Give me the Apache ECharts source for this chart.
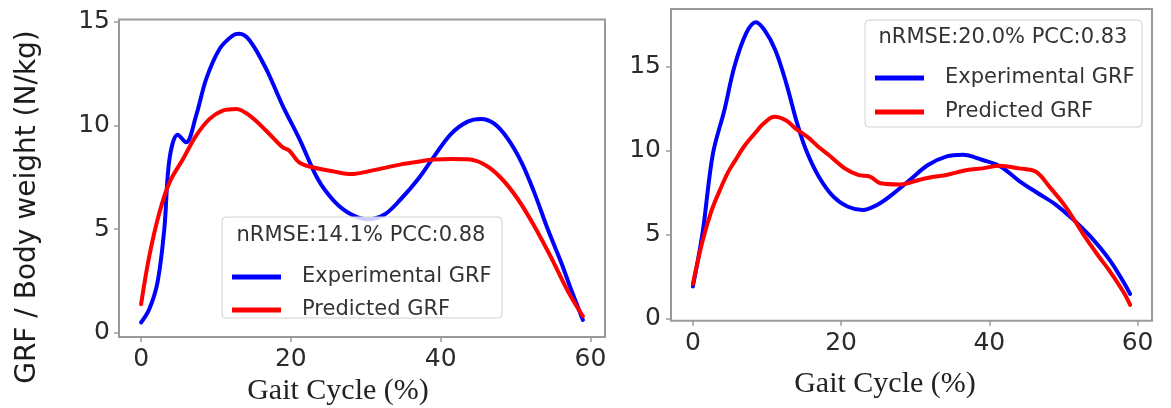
<!DOCTYPE html>
<html>
<head>
<meta charset="utf-8">
<script src="https://cdn.jsdelivr.net/npm/echarts@6/dist/echarts.min.js"></script>
<style>
  html, body { margin: 0; padding: 0; background: #ffffff; }
  #chart { width: 1171px; height: 408px; }
</style>
</head>
<body>
<div id="chart"></div>
<script>
// Gait cycle (%) sample positions and GRF / body weight (N/kg) values
const leftExpX  = [0, 1.1, 2.2, 3.1, 3.8, 4.9, 6.0, 7.35, 8.7, 10.5, 12.25, 13.1, 14.5, 16.7, 18.9, 21.2, 23.6, 25.8, 28.1, 30.3, 32.5, 34.7, 37, 39.2, 41.4, 43.6, 45.4, 47.2, 49, 50.8, 52.5, 54.3, 56.1, 57.4, 59];
const leftExpY  = [0.5, 1.15, 2.45, 5.0, 8.4, 9.55, 9.18, 10.47, 12.24, 13.69, 14.33, 14.41, 14.09, 12.72, 10.95, 9.3, 7.41, 6.34, 5.7, 5.47, 5.7, 6.45, 7.41, 8.54, 9.59, 10.18, 10.31, 10.07, 9.34, 8.22, 6.77, 5.0, 3.39, 2.11, 0.62];
const leftPredX = [0, 1.1, 2.45, 3.8, 5.6, 7.35, 9.15, 10.9, 12.7, 14.5, 16.7, 18.9, 19.8, 21.1, 22.9, 25.8, 28.1, 30.3, 32.5, 34.7, 37, 39.2, 41.4, 43.6, 45.9, 48.1, 50.3, 52.5, 54.8, 57, 59];
const leftPredY = [1.38, 3.71, 5.8, 7.25, 8.38, 9.5, 10.31, 10.71, 10.79, 10.47, 9.74, 8.94, 8.78, 8.22, 7.98, 7.77, 7.65, 7.78, 7.95, 8.12, 8.25, 8.35, 8.38, 8.36, 8.1, 7.45, 6.45, 5.15, 3.6, 2.0, 0.8];

const rightExpX  = [0, 1.3, 2.7, 4.26, 5.6, 7.2, 8.5, 9.65, 11.12, 12.6, 14.07, 15.3, 17.0, 18.96, 20.93, 22.9, 24.85, 26.8, 29.27, 31.72, 34.17, 36.4, 39.07, 41.5, 44, 46.4, 48.9, 51.3, 53.6, 56.2, 58.2, 59];
const rightExpY  = [1.9, 5.07, 9.8, 12.42, 15.0, 17.0, 17.65, 17.19, 16.0, 14.01, 11.63, 10.0, 8.44, 7.25, 6.65, 6.46, 6.76, 7.35, 8.25, 9.14, 9.64, 9.75, 9.44, 9.05, 8.2, 7.5, 6.8, 5.9, 4.9, 3.5, 2.09, 1.45];
const rightPredX = [0, 1.3, 2.5, 3.6, 4.74, 5.7, 7.0, 8.7, 9.5, 11.0, 12.6, 13.75, 15.5, 17.0, 18.3, 20.5, 22.3, 23.9, 25.3, 28, 30.5, 32.5, 34.2, 37, 39.1, 41.4, 44, 46.3, 48.1, 50.3, 52.6, 54.8, 56.2, 58.2, 59];
const rightPredY = [2.05, 4.6, 6.4, 7.6, 8.7, 9.4, 10.3, 11.2, 11.6, 12.02, 11.8, 11.35, 10.8, 10.2, 9.75, 8.94, 8.55, 8.45, 8.05, 7.98, 8.25, 8.44, 8.55, 8.84, 8.94, 9.1, 8.94, 8.74, 7.85, 6.65, 5.07, 3.67, 2.85, 1.5, 0.8];

const xTicks = [0, 20, 40, 60];
const yTicks = [0, 5, 10, 15];

const seriesNames = ['Experimental GRF', 'Predicted GRF'];
const leftStats = 'nRMSE:14.1% PCC:0.88';
const rightStats = 'nRMSE:20.0% PCC:0.83';
const xTitle = 'Gait Cycle (%)';
const yTitle = 'GRF / Body weight (N/kg)';

const BLUE = '#0000ff';
const RED = '#ff0000';
const SPINE = '#9a9a9a';
const TICK_TEXT = '#2b2b2b';
const SANS = 'DejaVu Sans';
const SERIF = 'Liberation Serif';

const zip = (xs, ys) => xs.map((x, i) => [x, ys[i]]);

function xAxisFor(gridIndex) {
  return {
    type: 'value', gridIndex, min: -2.95, max: 61.95,
    axisLine: { show: false, onZero: false },
    axisTick: { show: true, customValues: xTicks, length: 5, lineStyle: { color: SPINE, width: 1.5 } },
    axisLabel: { customValues: xTicks, margin: 10, fontFamily: SANS, fontSize: 25, color: TICK_TEXT },
    splitLine: { show: false }
  };
}
function yAxisFor(gridIndex, min, max, margin) {
  return {
    type: 'value', gridIndex, min, max,
    axisLine: { show: false, onZero: false },
    axisTick: { show: true, customValues: yTicks, length: 5, lineStyle: { color: SPINE, width: 1.5 } },
    axisLabel: { customValues: yTicks, margin, fontFamily: SANS, fontSize: 25, color: TICK_TEXT },
    splitLine: { show: false }
  };
}
function lineSeries(name, color, idx, data) {
  return {
    name, type: 'line', xAxisIndex: idx, yAxisIndex: idx, data,
    showSymbol: false, smooth: 0.35,
    lineStyle: { color, width: 4, join: 'round', cap: 'round' }, itemStyle: { color },
    z: name === seriesNames[1] ? 3 : 2, silent: true, animation: false
  };
}
function legendAt(left, top, gap) {
  return {
    data: seriesNames, orient: 'vertical', left, top,
    icon: 'rect', itemWidth: 49, itemHeight: 5, itemGap: gap,
    selectedMode: false, z: 20,
    textStyle: { fontFamily: SANS, fontSize: 21, color: '#333', lineHeight: 24, padding: [0, 0, 0, 16] }
  };
}
function legendFrame(x, y, w, h, title, tx, ty) {
  return [
    { type: 'rect', z: 10, shape: { x, y, width: w, height: h, r: 4 },
      style: { fill: 'rgba(255,255,255,0.8)', stroke: '#d0d0d0', lineWidth: 1 } },
    { type: 'text', z: 21, x: tx, y: ty,
      style: { text: title, fontFamily: SANS, fontSize: 21, fill: '#333', align: 'center', verticalAlign: 'middle' } }
  ];
}

const chart = echarts.init(document.getElementById('chart'), null, { renderer: 'canvas' });
chart.setOption({
  animation: false,
  backgroundColor: '#ffffff',
  grid: [
    { left: 119, top: 19.5, width: 486, height: 317.5, show: true, borderColor: SPINE, borderWidth: 2, containLabel: false },
    { left: 671, top: 9, width: 481, height: 311.7, show: true, borderColor: SPINE, borderWidth: 2, containLabel: false }
  ],
  xAxis: [xAxisFor(0), xAxisFor(1)],
  yAxis: [yAxisFor(0, -0.2, 15.1, 9), yAxisFor(1, -0.14, 18.44, 10)],
  legend: [legendAt(227, 260, 9), legendAt(870, 61, 10)],
  series: [
    lineSeries(seriesNames[0], BLUE, 0, zip(leftExpX, leftExpY)),
    lineSeries(seriesNames[1], RED, 0, zip(leftPredX, leftPredY)),
    lineSeries(seriesNames[0], BLUE, 1, zip(rightExpX, rightExpY)),
    lineSeries(seriesNames[1], RED, 1, zip(rightPredX, rightPredY))
  ],
  graphic: [
    ...legendFrame(222, 217, 280, 101, leftStats, 361, 236),
    ...legendFrame(865, 20, 277, 107, rightStats, 1003, 38),
    { type: 'text', z: 5, x: 28, y: 207, rotation: Math.PI / 2,
      style: { text: yTitle, fontFamily: SANS, fontSize: 28, fill: '#1c1c1c', align: 'center', verticalAlign: 'middle' } },
    { type: 'text', z: 5, x: 338, y: 391,
      style: { text: xTitle, fontFamily: SERIF, fontSize: 30, fill: '#222', align: 'center', verticalAlign: 'middle' } },
    { type: 'text', z: 5, x: 885, y: 384,
      style: { text: xTitle, fontFamily: SERIF, fontSize: 30, fill: '#222', align: 'center', verticalAlign: 'middle' } }
  ]
});
</script>
</body>
</html>
